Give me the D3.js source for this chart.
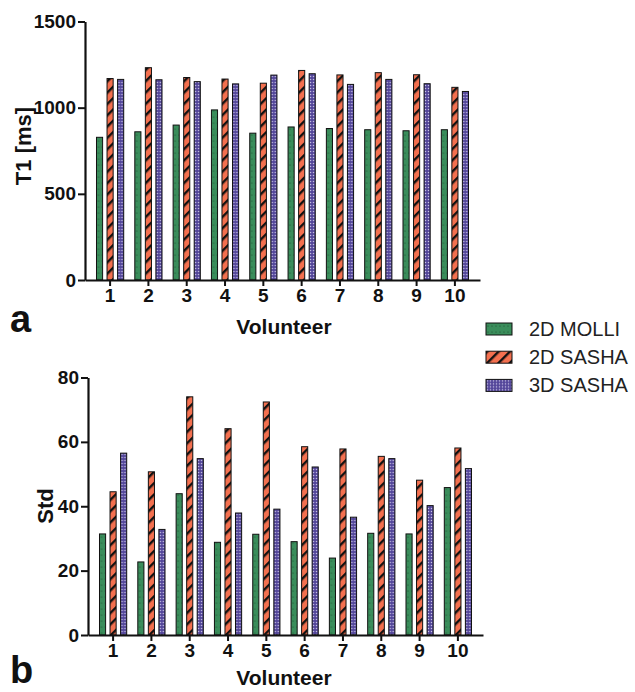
<!DOCTYPE html>
<html>
<head>
<meta charset="utf-8">
<script src="https://cdn.jsdelivr.net/npm/d3@7"></script>
<style>
  body { margin: 0; background: #fff; }
  text { font-family: "Liberation Sans", Arial, sans-serif; }
</style>
</head>
<body>
<div id="chart"></div>
<script>
// values
const volunteers = ["1", "2", "3", "4", "5", "6", "7", "8", "9", "10"]
const series = ["2D MOLLI", "2D SASHA", "3D SASHA"]

const t1Molli = [828, 860, 899, 987, 852, 888, 879, 872, 866, 872]
const t1Sasha2d = [1169, 1232, 1175, 1166, 1142, 1216, 1190, 1203, 1191, 1118]
const t1Sasha3d = [1164, 1162, 1151, 1138, 1189, 1197, 1135, 1164, 1139, 1094]

const stdMolli = [31.4, 22.7, 43.9, 28.8, 31.3, 29.0, 23.9, 31.6, 31.4, 45.8]
const stdSasha2d = [44.5, 50.7, 74.0, 64.1, 72.4, 58.5, 57.8, 55.5, 48.1, 58.1]
const stdSasha3d = [56.5, 32.8, 54.8, 37.9, 39.1, 52.2, 36.6, 54.8, 40.2, 51.7]

const t1Ticks = [0, 500, 1000, 1500]
const stdTicks = [0, 20, 40, 60, 80]

const width = 635
const height = 692

const svg = d3.select("#chart")
    .append("svg")
    .attr("width", width)
    .attr("height", height)

// fill patterns like the original figure
const defs = svg.append("defs")

let green = defs.append("pattern").attr("id", "pat0")
    .attr("patternUnits", "userSpaceOnUse")
    .attr("width", 4).attr("height", 6)
green.append("rect").attr("width", 4).attr("height", 6).attr("fill", "#3a8d5b")
green.append("circle").attr("cx", 2).attr("cy", 3).attr("r", 0.6).attr("fill", "#1c4a2c")

let red = defs.append("pattern").attr("id", "pat1")
    .attr("patternUnits", "userSpaceOnUse")
    .attr("width", 8).attr("height", 8)
    .attr("patternTransform", "rotate(-45)")
red.append("rect").attr("width", 8).attr("height", 8).attr("fill", "#f3704f")
red.append("rect").attr("width", 8).attr("height", 2.4).attr("fill", "#111")

let purple = defs.append("pattern").attr("id", "pat2")
    .attr("patternUnits", "userSpaceOnUse")
    .attr("width", 3).attr("height", 3)
purple.append("rect").attr("width", 3).attr("height", 3).attr("fill", "#53469a")
purple.append("circle").attr("cx", 1.5).attr("cy", 1.5).attr("r", 0.75).attr("fill", "#c9c3e6")

const fills = series.map((s, i) => `url(#pat${i})`)

function drawPanel(opts) {
    const rows = volunteers.map((v, i) => ({
        vol: v,
        vals: opts.values.map(arr => arr[i])
    }))

    const x = d3.scaleBand()
        .domain(volunteers)
        .range([opts.left, opts.right])
        .paddingInner(0.29)
        .paddingOuter(0.3)

    const xInner = d3.scaleBand()
        .domain(series)
        .range([0, x.bandwidth()])
        .paddingInner(0.42)

    const y = d3.scaleLinear()
        .domain([0, opts.max])
        .range([opts.bottom, opts.top])

    const g = svg.append("g")

    const groups = g.selectAll(".grp")
        .data(rows)
        .enter()
        .append("g")
        .attr("class", "grp")
        .attr("transform", d => `translate(${x(d.vol)},0)`)

    groups.selectAll("rect")
        .data(d => d.vals.map((v, i) => ({ key: series[i], v: v, i: i })))
        .enter()
        .append("rect")
        .attr("x", d => xInner(d.key))
        .attr("width", xInner.bandwidth())
        .attr("y", d => y(d.v))
        .attr("height", d => y(0) - y(d.v))
        .attr("fill", d => fills[d.i])
        .attr("stroke", "#111")
        .attr("stroke-width", 1)

    const xAxis = d3.axisBottom(x).tickSize(6).tickSizeOuter(0).tickPadding(3)
    const yAxis = d3.axisLeft(y)
        .tickValues(opts.ticks)
        .tickFormat(d3.format("d"))
        .tickSize(7).tickSizeOuter(0).tickPadding(2)

    const gx = g.append("g")
        .attr("transform", `translate(0,${opts.bottom})`)
        .call(xAxis)
    const gy = g.append("g")
        .attr("transform", `translate(${opts.left},0)`)
        .call(yAxis)

    ;[gx, gy].forEach(ax => {
        ax.select(".domain").attr("stroke", "#111").attr("stroke-width", 2.2)
        ax.selectAll(".tick line").attr("stroke", "#111").attr("stroke-width", 2)
        ax.selectAll(".tick text")
            .attr("fill", "#111")
            .style("font-size", "19px")
            .style("font-weight", "bold")
            .style("font-family", "'Liberation Sans', Arial, sans-serif")
    })

    g.append("text")
        .attr("transform", `translate(${opts.yLabelX},${opts.yLabelY}) rotate(-90)`)
        .attr("text-anchor", "middle")
        .attr("font-size", "22px")
        .attr("font-weight", "bold")
        .attr("fill", "#111")
        .text(opts.yLabel)

    g.append("text")
        .attr("x", 284)
        .attr("y", opts.bottom + opts.xLabelDy)
        .attr("text-anchor", "middle")
        .attr("font-size", "21px")
        .attr("font-weight", "bold")
        .attr("fill", "#111")
        .text("Volunteer")

    g.append("text")
        .attr("x", 10)
        .attr("y", opts.bottom + opts.letterDy)
        .attr("font-size", "38px")
        .attr("font-weight", "bold")
        .attr("fill", "#111")
        .text(opts.letter)
}

drawPanel({
    values: [t1Molli, t1Sasha2d, t1Sasha3d],
    max: 1500, ticks: t1Ticks,
    left: 85, right: 480, top: 21.5, bottom: 280,
    yLabel: "T1 [ms]", yLabelX: 31, yLabelY: 146, xLabelDy: 54, letterDy: 52, letter: "a"
})

drawPanel({
    values: [stdMolli, stdSasha2d, stdSasha3d],
    max: 80, ticks: stdTicks,
    left: 88, right: 483, top: 377.5, bottom: 635,
    yLabel: "Std", yLabelX: 53, yLabelY: 506, xLabelDy: 50, letterDy: 48, letter: "b"
})

// legend
const legend = svg.append("g").attr("transform", "translate(486,323)")
const items = legend.selectAll(".legend-item")
    .data(series)
    .enter()
    .append("g")
    .attr("class", "legend-item")
    .attr("transform", (d, i) => `translate(0,${i * 28.2})`)
items.append("rect")
    .attr("width", 26)
    .attr("height", 12)
    .attr("fill", (d, i) => fills[i])
    .attr("stroke", "#111")
    .attr("stroke-width", 1)
items.append("text")
    .attr("x", 43)
    .attr("y", 13)
    .attr("font-size", "20px")
    .attr("fill", "#222")
    .text(d => d)
</script>
</body>
</html>
